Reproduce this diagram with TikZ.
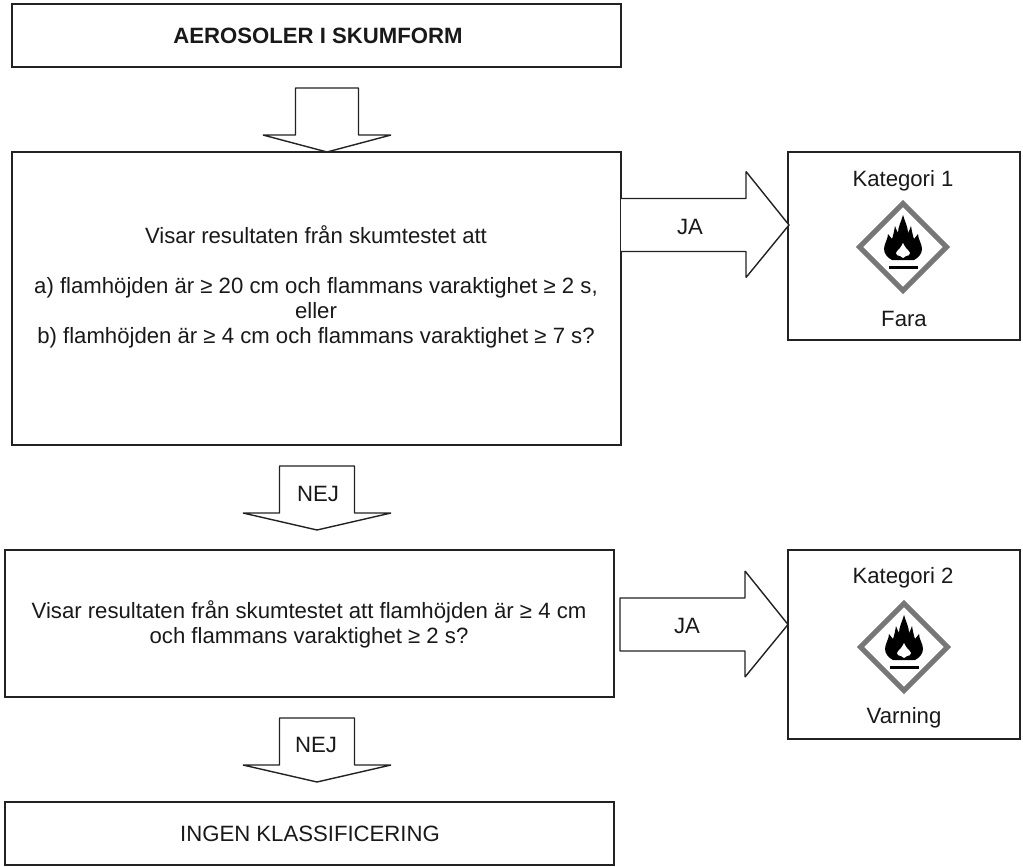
\documentclass[tikz,border=0pt]{standalone}
\usepackage{fontspec}
\setmainfont{Liberation Sans}
\usepackage{xcolor}
\definecolor{ghsgrey}{HTML}{777777}
\definecolor{lineblack}{HTML}{222222}
\tikzset{
	box/.style={draw=lineblack,line width=1.4pt,inner sep=0pt,outer sep=0pt},
	txt/.style={font=\fontsize{22.15}{25}\selectfont,align=center,inner sep=0pt,text=black!90},
	blockarrow/.style={draw=lineblack,line width=1.4pt,line join=bevel,fill=white},
}
\begin{document}
\begin{tikzpicture}[y=-1pt,x=1pt]
	\newcommand\DownArrow[2]{+(-#1,0) -- +(#1,0) -- +(#1,47) -- +(#2,47) -- +(0,64) -- +(-#2,47) -- +(-#1,47) -- cycle}
	\newcommand\RightArrow{-- +(125,0) -- +(125,-27) -- +(168,26.5) -- +(125,79) -- +(125,53) -- +(0,53)}
	% flame pictogram in its grey diamond
	\newcommand\Pictogram[1]{
		\begin{scope}[shift={(#1)}]
			\draw[ghsgrey,line width=5pt,line join=miter,fill=white] (0,-43.5) -- (43.5,0) -- (0,43.5) -- (-43.5,0) -- cycle;
			\fill[black] (0,-32) .. controls (2,-25) and (5,-20) .. (5,-14)
				.. controls (6,-16) and (7,-18) .. (8,-21)
				.. controls (9,-15) and (10,-11) .. (11,-8)
				-- (15,-13)
				.. controls (15,-8) and (19,-3) .. (19,2)
				.. controls (19,7) and (15,11) .. (11,13)
				-- (-11,13)
				.. controls (-15,11) and (-19,7) .. (-19,2)
				.. controls (-19,-3) and (-15,-8) .. (-15,-13)
				-- (-11,-8)
				.. controls (-10,-11) and (-9,-15) .. (-8,-21)
				.. controls (-7,-18) and (-6,-16) .. (-5,-14)
				.. controls (-5,-20) and (-2,-25) .. (0,-32) -- cycle;
			\fill[white] (0,-4) .. controls (1,-2) and (2,0) .. (3,1)
				.. controls (4,3) and (7,4) .. (7,6)
				.. controls (7,8) and (5,9) .. (3,9)
				-- (0,11) -- (-3,9)
				.. controls (-5,9) and (-7,8) .. (-7,6)
				.. controls (-7,4) and (-4,3) .. (-3,1)
				.. controls (-2,0) and (-1,-2) .. (0,-4) -- cycle;
			\fill[black] (-14.5,18.5) rectangle (15,22);
		\end{scope}
	}

	\node[box,minimum width=609pt,minimum height=63pt] (title) at (316.5,35.5) {};
	\node[box,minimum width=609pt,minimum height=293pt] (first) at (316.5,298.5) {};
	\node[box,minimum width=609pt,minimum height=147pt] (second) at (309.5,623.5) {};
	\node[box,minimum width=609pt,minimum height=63pt] (none) at (309.5,833.5) {};
	\node[box,minimum width=232pt,minimum height=188pt] (cat1) at (904,246) {};
	\node[box,minimum width=232pt,minimum height=189pt] (cat2) at (904,644.5) {};

	\draw[blockarrow] (327,88) \DownArrow{31.5}{64};
	\draw[blockarrow] (317,466) \DownArrow{37.5}{74};
	\draw[blockarrow] (317,718) \DownArrow{37.5}{74};
	\draw[blockarrow] (621,198.5) \RightArrow;
	\draw[blockarrow] (620,598) \RightArrow -- cycle;

	\node[txt,font=\fontsize{22.15}{25}\selectfont\bfseries] (titletext) at (318,36) {AEROSOLER I SKUMFORM};
	\node[txt] (firsttext) at (316,286.5) {Visar resultaten från skumtestet att\\[25pt]
		a) flamhöjden är ≥ 20 cm och flammans varaktighet ≥ 2 s,\\
		eller\\
		b) flamhöjden är ≥ 4 cm och flammans varaktighet ≥ 7 s?};
	\node[txt] (secondtext) at (309,624) {Visar resultaten från skumtestet att flamhöjden är ≥ 4 cm\\
		och flammans varaktighet ≥ 2 s?};
	\node[txt] (nonetext) at (310,834) {INGEN KLASSIFICERING};

	\node[txt] (yes1) at (690,226.5) {JA};
	\node[txt] (yes2) at (687,625.5) {JA};
	\node[txt] (no1) at (318,493.5) {NEJ};
	\node[txt] (no2) at (316,744.5) {NEJ};

	\node[txt] (cat1top) at (903,181) {Kategori 1};
	\node[txt] (cat1low) at (904,318.5) {Fara};
	\node[txt] (cat2top) at (903,577.5) {Kategori 2};
	\node[txt] (cat2low) at (904,717.5) {Varning};

	\Pictogram{903,247}
	\Pictogram{904,647}

	\useasboundingbox (0,0) rectangle (1023,867);
\end{tikzpicture}
\end{document}
